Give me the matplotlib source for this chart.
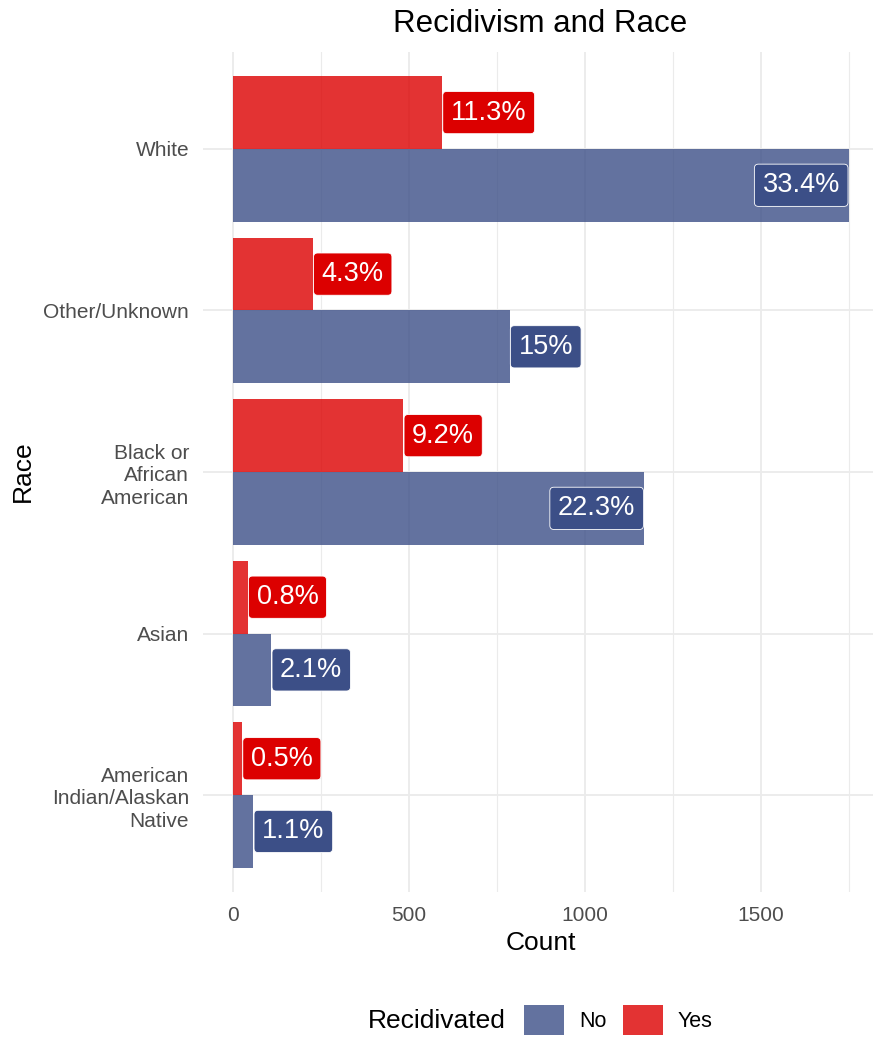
import numpy as np
import matplotlib.pyplot as plt
from matplotlib.patches import Patch

# data, bottom to top as drawn on the y axis
races = ["American\nIndian/Alaskan\nNative", "Asian", "Black or\nAfrican\nAmerican", "Other/Unknown", "White"]
count_no = [58, 109, 1168, 786, 1749]
count_yes = [26, 42, 484, 227, 594]
pct_no = ["1.1%", "2.1%", "22.3%", "15%", "33.4%"]
pct_yes = ["0.5%", "0.8%", "9.2%", "4.3%", "11.3%"]

col_no = "#3C4F87"
col_yes = "#DC0000"
grid_col = "#EBEBEB"

plt.rcParams['font.family'] = ['Liberation Sans', 'DejaVu Sans']

fig = plt.figure(figsize=(8.73, 10.41), dpi=100)
ax = fig.add_axes([203 / 873, 1 - 892 / 1041, 1 - 203 / 873, (892 - 52) / 1041])

y = np.arange(len(races))
h = 0.45
xmin, xmax = -85, 1818
ax.set_xlim(xmin, xmax)
ax.set_ylim(-0.6, len(races) - 0.4)

# grid
for v in [0, 500, 1000, 1500]:
    ax.axvline(v, color=grid_col, lw=1.3, zorder=0)
for v in [250, 750, 1250, 1750]:
    ax.axvline(v, color=grid_col, lw=0.8, zorder=0)
for v in y:
    ax.axhline(v, color=grid_col, lw=1.3, zorder=0)

ax.barh(y - h / 2, count_no, height=h, color=col_no, alpha=0.8, lw=0, zorder=2)
ax.barh(y + h / 2, count_yes, height=h, color=col_yes, alpha=0.8, lw=0, zorder=2)

# labels, pushed inward like ggplot hjust = "inward"
mid = (xmin + xmax) / 2
lab_size = 19.5
lab_pad = 0.3
def put_label(x, yy, txt, fill):
    inside = x > mid
    off = lab_pad * lab_size + 0.5
    ax.annotate(txt, (x, yy), xytext=(-off if inside else off, 0), textcoords='offset points',
                ha='right' if inside else 'left', va='center', fontsize=lab_size, color='white',
                zorder=4,
                bbox=dict(boxstyle='round,pad=%g,rounding_size=0.15' % lab_pad, fc=fill, ec='white', lw=0.6))

for i in range(len(races)):
    put_label(count_no[i], y[i] - h / 2, pct_no[i], col_no)
    put_label(count_yes[i], y[i] + h / 2, pct_yes[i], col_yes)

for s in ax.spines.values():
    s.set_visible(False)
ax.set_xticks([0, 500, 1000, 1500])
ax.set_xticklabels(["0", "500", "1000", "1500"])
ax.set_yticks(y)
ax.set_yticklabels(races)
ax.tick_params(length=0, labelsize=15, labelcolor='#4D4D4D')
ax.tick_params(axis='x', pad=10)
ax.tick_params(axis='y', pad=10)
for t in ax.get_yticklabels():
    t.set_linespacing(1.25)

fig.text(540 / 873, 1 - 32 / 1041, "Recidivism and Race", ha='center', va='baseline', fontsize=22.5)
fig.text(541 / 873, 1 - 943 / 1041, "Count", ha='center', va='center', fontsize=19)
fig.text(23 / 873, 1 - 471 / 1041, "Race", ha='center', va='center', rotation=90, fontsize=19)

# legend
fig.text(368 / 873, 1 - 1021 / 1041, "Recidivated", ha='left', va='center', fontsize=19)
handles = [Patch(facecolor=col_no, alpha=0.8, lw=0), Patch(facecolor=col_yes, alpha=0.8, lw=0)]
fig.legend(handles, ["No", "Yes"], ncol=2, loc='center left', bbox_to_anchor=(524 / 873, 1 - 1020 / 1041),
           frameon=False, fontsize=15.5, handlelength=1.86, handleheight=1.77, handletextpad=0.7,
           columnspacing=0.75, borderpad=0, borderaxespad=0)

fig.savefig("out.png", dpi=100)
